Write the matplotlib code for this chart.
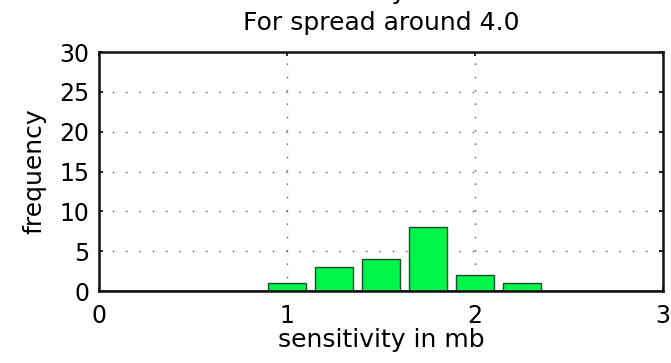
import matplotlib
matplotlib.use("Agg")
import matplotlib.pyplot as plt

# histogram bins (centres) and counts
bin_centers = [1.0, 1.25, 1.5, 1.75, 2.0, 2.25]
counts = [1, 3, 4, 8, 2, 1]
bar_width = 0.2

x_ticks = [0, 1, 2, 3]
y_ticks = [0, 5, 10, 15, 20, 25, 30]

plt.rcParams['font.family'] = ['DejaVu Sans']

fig = plt.figure(figsize=(6.71, 3.63), dpi=100)
ax = fig.add_axes([0.1475, 0.1983, 0.8405, 0.6584])

ax.bar(bin_centers, counts, width=bar_width, color='#00f54a',
       edgecolor='#1f4f28', linewidth=1.0, zorder=3)
ax.axhline(0, color='#222222', linewidth=2.0, zorder=4)

ax.set_xlim(0, 3)
ax.set_ylim(0, 30)
ax.set_xticks(x_ticks)
ax.set_yticks(y_ticks)
ax.tick_params(labelsize=17, direction='in', length=3, width=1.2,
               top=True, right=True)
ax.tick_params(axis='y', pad=7)
ax.tick_params(axis='x', pad=9)
ax.grid(True, color='#555555', linestyle=(0, (1, 8.6)), linewidth=1.0, zorder=0)
for s in ax.spines.values():
    s.set_linewidth(1.8)
    s.set_color('#111111')

ax.set_xlabel('sensitivity in mb', fontsize=18, labelpad=0)
ax.set_ylabel('frequency', fontsize=18, labelpad=9)
# first title line runs off the top of the figure, as in the original
ax.set_title('Sensitivity in mb\nFor spread around 4.0', fontsize=18,
             linespacing=1.38, pad=16)

fig.savefig('out.png', dpi=100)
